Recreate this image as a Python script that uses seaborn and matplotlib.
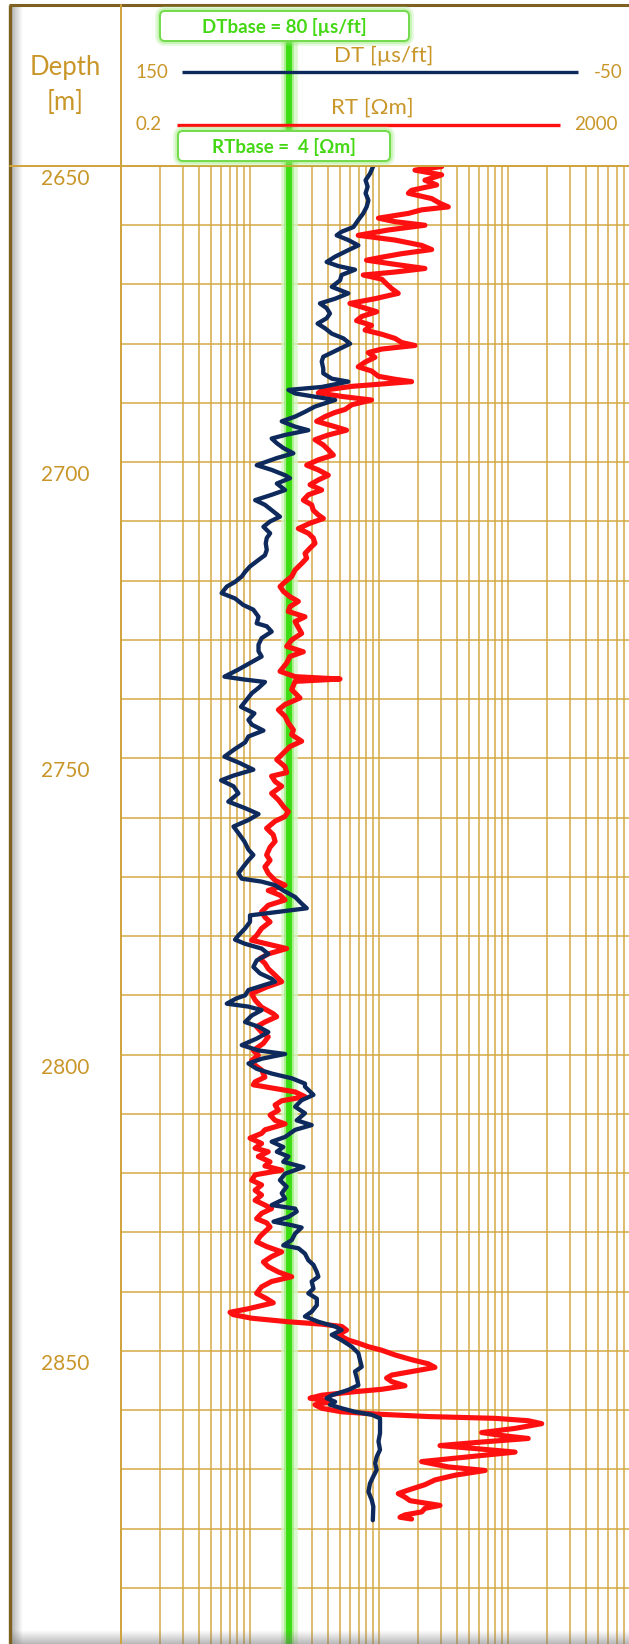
import numpy as np
import matplotlib
matplotlib.use("Agg")
import matplotlib.pyplot as plt
import matplotlib.transforms as mtransforms
from matplotlib.patches import FancyBboxPatch
import seaborn as sns

sns.set_style("white")
plt.rcParams['font.family'] = ['Lato', 'DejaVu Sans']

# ---- log readings (depth in m) ----
dt_depth = [
    2650.0, 2651.3, 2652.4, 2653.5, 2654.6, 2655.8, 2656.9, 2658.0, 2659.1, 2660.3,
    2661.1, 2661.7, 2662.5, 2663.4, 2664.2, 2665.3, 2666.2, 2666.9, 2667.5, 2668.4,
    2669.3, 2670.4, 2671.5, 2672.4, 2673.2, 2674.0, 2674.9, 2675.7, 2676.6, 2677.4,
    2678.3, 2679.1, 2680.0, 2681.1, 2682.2, 2683.0, 2684.2, 2685.0, 2685.9, 2686.4,
    2687.3, 2687.8, 2688.4, 2689.5, 2690.6, 2691.5, 2692.3, 2693.1, 2694.0, 2694.6,
    2695.4, 2696.0, 2696.8, 2697.6, 2698.5, 2699.3, 2700.5, 2701.3, 2702.2, 2702.7,
    2703.6, 2704.7, 2705.5, 2706.4, 2707.2, 2708.1, 2709.2, 2710.0, 2710.9, 2712.0,
    2712.8, 2713.7, 2714.8, 2715.7, 2716.5, 2717.6, 2718.5, 2719.3, 2720.2, 2721.0,
    2722.1, 2723.0, 2724.1, 2724.9, 2726.1, 2727.2, 2727.7, 2728.6, 2729.7, 2730.8,
    2731.9, 2732.8, 2733.9, 2735.0, 2736.2, 2736.7, 2737.1, 2738.1, 2739.0, 2740.1,
    2741.3, 2742.4, 2743.5, 2744.3, 2745.3, 2746.3, 2747.3, 2748.4, 2749.7, 2750.8,
    2751.9, 2752.9, 2753.7, 2754.7, 2755.9, 2757.3, 2758.4, 2759.4, 2760.4, 2761.5,
    2762.6, 2764.0, 2765.4, 2766.3, 2767.2, 2768.3, 2769.4, 2770.3, 2770.8, 2771.4,
    2772.3, 2773.4, 2774.5, 2775.3, 2775.9, 2776.5, 2777.6, 2778.7, 2779.9, 2780.6,
    2781.3, 2782.1, 2783.0, 2784.1, 2785.2, 2786.3, 2787.2, 2787.7, 2788.3, 2789.1,
    2790.0, 2790.5, 2791.4, 2791.9, 2792.5, 2793.4, 2794.5, 2795.3, 2796.2, 2797.3,
    2798.4, 2799.3, 2799.9, 2800.7, 2801.5, 2802.4, 2803.2, 2804.0, 2804.9, 2805.4,
    2806.8, 2807.7, 2808.8, 2809.9, 2811.1, 2811.9, 2812.7, 2813.9, 2814.7, 2815.6,
    2816.4, 2817.2, 2818.1, 2819.0, 2820.1, 2821.2, 2822.3, 2823.4, 2824.3, 2825.4,
    2826.0, 2826.5, 2827.4, 2828.2, 2828.8, 2829.2, 2830.2, 2831.3, 2832.2, 2832.7,
    2833.6, 2834.7, 2835.5, 2836.7, 2837.5, 2838.3, 2839.5, 2840.3, 2841.2, 2842.3,
    2843.4, 2844.2, 2845.1, 2845.9, 2846.5, 2847.3, 2848.2, 2849.3, 2850.4, 2851.5,
    2852.7, 2853.5, 2854.6, 2855.8, 2856.6, 2857.5, 2858.0, 2858.6, 2859.1, 2859.7,
    2860.3, 2860.8, 2861.4, 2862.5, 2863.9, 2865.3, 2866.7, 2867.9, 2869.0, 2870.1,
    2871.2, 2872.4, 2873.8, 2875.2, 2876.3, 2878.6,
]
dt_value = [
    52.2, 53.5, 55.2, 54.4, 55.2, 54.1, 54.8, 56.1, 58.0, 59.9,
    64.5, 66.4, 61.9, 58.0, 61.9, 67.0, 70.3, 65.7, 59.3, 64.5,
    65.1, 68.3, 61.9, 67.0, 72.9, 70.3, 69.0, 70.3, 73.8, 70.9,
    68.3, 63.8, 61.2, 66.4, 71.6, 72.2, 71.6, 71.6, 68.3, 61.9,
    72.2, 85.1, 82.5, 67.0, 74.8, 78.7, 82.5, 87.7, 82.5, 77.4,
    86.4, 91.6, 89.6, 87.1, 83.2, 89.6, 97.4, 91.6, 86.4, 84.5,
    89.6, 86.4, 91.6, 98.0, 94.2, 91.6, 88.4, 92.2, 94.8, 92.2,
    93.5, 93.9, 93.5, 94.2, 96.7, 100.0, 101.9, 103.2, 105.8, 109.0,
    111.0, 105.8, 102.6, 98.7, 96.7, 97.4, 93.5, 91.6, 95.5, 96.7,
    96.7, 95.5, 100.0, 104.5, 109.9, 101.9, 94.2, 96.7, 99.3, 101.3,
    103.5, 98.3, 100.6, 99.3, 94.8, 100.6, 101.9, 105.8, 109.9, 103.9,
    98.7, 106.4, 111.2, 106.4, 104.5, 108.4, 101.9, 96.7, 100.6, 106.4,
    104.5, 102.2, 100.6, 98.7, 100.6, 102.6, 104.5, 103.2, 95.5, 90.3,
    87.1, 82.5, 80.0, 78.0, 89.0, 100.0, 100.0, 101.9, 104.5, 105.8,
    101.9, 95.5, 92.9, 97.4, 98.7, 96.1, 91.6, 90.3, 94.8, 100.6,
    101.9, 105.2, 109.0, 100.6, 95.5, 99.3, 101.9, 96.7, 92.9, 97.4,
    103.2, 96.7, 86.4, 95.5, 100.6, 97.4, 91.6, 83.8, 78.7, 78.7,
    75.4, 80.0, 82.5, 78.7, 81.9, 76.1, 82.5, 86.4, 91.6, 87.1,
    89.6, 85.1, 87.1, 79.3, 86.4, 88.4, 85.8, 87.7, 86.4, 91.6,
    82.5, 81.9, 85.1, 90.9, 83.8, 80.0, 82.5, 83.8, 87.1, 81.2,
    78.7, 77.4, 75.4, 74.1, 73.5, 76.1, 75.4, 77.4, 74.1, 74.1,
    76.1, 78.7, 73.5, 67.0, 64.5, 68.3, 64.5, 60.6, 58.0, 57.4,
    56.7, 59.3, 58.6, 58.0, 61.9, 68.3, 70.3, 67.0, 69.0, 64.5,
    59.3, 52.8, 49.6, 49.6, 49.6, 50.2, 49.6, 50.9, 51.5, 50.9,
    52.2, 53.5, 54.1, 52.8, 52.2, 52.4,
]

rt_depth = [
    2650.1, 2650.7, 2651.5, 2652.4, 2653.2, 2654.1, 2654.6, 2655.5, 2656.3, 2656.9,
    2657.4, 2658.0, 2658.8, 2659.4, 2660.0, 2660.8, 2661.7, 2662.5, 2663.4, 2664.1,
    2664.8, 2665.4, 2665.9, 2666.6, 2667.3, 2667.9, 2668.4, 2669.1, 2669.9, 2670.7,
    2671.5, 2672.4, 2673.2, 2674.0, 2674.6, 2675.4, 2676.1, 2676.9, 2677.7, 2678.4,
    2679.1, 2679.8, 2680.3, 2680.9, 2681.5, 2682.3, 2683.1, 2683.9, 2684.6, 2685.5,
    2686.0, 2686.4, 2687.2, 2687.9, 2688.3, 2688.9, 2689.5, 2690.3, 2691.1, 2691.6,
    2692.3, 2693.1, 2694.0, 2694.6, 2695.4, 2696.2, 2697.1, 2697.9, 2698.8, 2699.6,
    2700.5, 2701.3, 2702.2, 2703.0, 2703.8, 2704.7, 2705.5, 2706.4, 2707.2, 2708.1,
    2708.9, 2709.5, 2710.3, 2711.2, 2712.0, 2712.8, 2713.7, 2714.5, 2715.4, 2716.2,
    2717.1, 2718.2, 2719.3, 2720.2, 2721.0, 2721.8, 2722.7, 2723.5, 2724.4, 2725.2,
    2726.1, 2726.9, 2727.4, 2728.9, 2730.0, 2731.1, 2732.0, 2732.8, 2733.9, 2735.3,
    2736.2, 2736.6, 2737.0, 2738.4, 2739.8, 2740.9, 2741.8, 2742.9, 2744.0, 2745.2,
    2746.0, 2747.1, 2748.0, 2749.1, 2750.2, 2751.4, 2752.4, 2753.0, 2753.9, 2754.7,
    2755.9, 2757.0, 2758.1, 2759.0, 2759.8, 2760.6, 2761.8, 2762.9, 2764.0, 2765.0,
    2766.3, 2767.2, 2768.3, 2769.4, 2770.6, 2771.4, 2772.3, 2773.1, 2773.9, 2774.8,
    2775.9, 2776.8, 2777.6, 2778.7, 2779.9, 2780.7, 2781.5, 2782.1, 2783.0, 2783.8,
    2784.6, 2785.5, 2786.6, 2787.7, 2788.6, 2789.7, 2790.8, 2792.0, 2793.1, 2793.6,
    2794.5, 2795.3, 2796.2, 2797.0, 2798.1, 2799.3, 2800.1, 2801.0, 2801.8, 2802.6,
    2803.8, 2804.6, 2805.1, 2806.3, 2807.1, 2807.8, 2808.5, 2809.4, 2810.2, 2811.1,
    2811.7, 2812.7, 2813.3, 2814.1, 2815.0, 2815.8, 2816.4, 2817.2, 2818.1, 2818.8,
    2819.5, 2820.3, 2821.2, 2822.0, 2822.9, 2823.7, 2824.6, 2825.4, 2826.0, 2826.8,
    2827.7, 2828.4, 2829.1, 2829.9, 2830.7, 2831.6, 2832.4, 2833.3, 2834.1, 2835.0,
    2835.8, 2836.7, 2837.5, 2838.3, 2839.2, 2840.3, 2841.2, 2841.9, 2842.9, 2843.5,
    2843.9, 2844.5, 2845.1, 2845.5, 2845.9, 2846.5, 2847.3, 2848.2, 2848.7, 2849.3,
    2849.9, 2850.7, 2851.5, 2852.2, 2852.8, 2853.5, 2854.1, 2854.6, 2855.2, 2855.9,
    2856.5, 2856.9, 2857.5, 2858.0, 2858.6, 2859.1, 2859.7, 2860.3, 2860.7, 2861.1,
    2861.4, 2861.8, 2862.3, 2863.1, 2863.8, 2864.3, 2864.8, 2865.4, 2866.0, 2866.5,
    2867.1, 2867.9, 2868.7, 2869.6, 2870.2, 2871.0, 2871.8, 2872.6, 2873.5, 2874.1,
    2874.7, 2875.3, 2875.7, 2876.1, 2876.6, 2877.2, 2877.7, 2878.1, 2878.4,
]
rt_value = [
    61.2, 38.0, 61.2, 45.4, 56.0, 35.8, 33.8, 51.2, 59.4, 68.9,
    42.8, 33.8, 19.8, 26.6, 45.4, 23.6, 13.8, 26.6, 42.8, 51.2,
    30.0, 21.0, 16.0, 26.6, 45.4, 26.6, 15.1, 21.0, 22.9, 25.1,
    28.2, 18.6, 11.9, 15.6, 19.2, 14.7, 13.4, 17.5, 15.6, 21.0,
    26.6, 30.0, 38.0, 21.0, 16.5, 18.6, 15.6, 13.8, 17.5, 19.8,
    26.6, 35.8, 12.3, 7.19, 6.77, 10.3, 17.5, 12.3, 10.9, 9.12,
    7.63, 6.57, 9.12, 11.2, 8.09, 6.38, 7.41, 8.09, 8.85, 6.77,
    5.50, 6.77, 8.09, 6.77, 5.84, 7.19, 5.67, 5.18, 6.01, 6.19,
    6.77, 7.41, 5.84, 4.74, 5.67, 6.19, 6.38, 5.84, 5.34, 5.50,
    5.03, 4.47, 4.21, 3.74, 3.42, 3.63, 4.08, 4.74, 4.08, 3.96,
    5.34, 4.47, 4.60, 5.03, 4.21, 3.85, 5.18, 4.08, 3.85, 3.42,
    4.47, 9.97, 4.47, 4.21, 4.88, 3.74, 3.32, 3.74, 3.96, 4.34,
    4.21, 5.03, 4.08, 3.63, 3.22, 3.74, 3.85, 2.94, 3.13, 3.52,
    2.94, 3.32, 3.63, 3.96, 3.74, 3.13, 2.69, 3.03, 3.13, 2.86,
    2.69, 2.86, 2.61, 2.77, 3.13, 3.74, 2.77, 3.42, 3.74, 2.77,
    2.46, 2.61, 2.86, 2.46, 2.25, 2.06, 2.94, 3.85, 2.77, 2.39,
    2.61, 2.77, 3.13, 3.52, 2.69, 2.06, 2.19, 2.46, 3.03, 3.22,
    2.61, 2.25, 2.46, 2.77, 2.54, 2.12, 2.32, 2.06, 2.19, 2.46,
    2.61, 2.19, 2.12, 4.47, 5.34, 3.52, 3.13, 3.32, 2.86, 3.13,
    3.74, 2.61, 2.46, 2.00, 2.46, 2.19, 2.77, 2.32, 2.86, 2.61,
    3.52, 2.19, 2.06, 2.46, 2.19, 2.46, 2.19, 2.61, 2.94, 2.46,
    2.25, 2.69, 2.86, 2.61, 2.39, 2.25, 2.69, 3.52, 2.94, 2.54,
    2.77, 3.32, 4.21, 2.94, 2.46, 2.25, 2.69, 3.03, 1.94, 1.40,
    1.48, 2.06, 3.96, 7.19, 10.3, 11.2, 9.68, 11.6, 13.8, 16.5,
    21.0, 26.6, 35.8, 48.3, 54.3, 35.8, 25.1, 22.9, 25.1, 31.8,
    21.0, 13.0, 7.19, 5.84, 8.59, 6.38, 7.19, 10.3, 19.8, 48.3,
    159, 287, 365, 227, 125, 179, 287, 125, 59.4, 111,
    227, 98.5, 42.8, 68.9, 133, 77.6, 54.3, 45.4, 33.8, 28.2,
    31.8, 34.8, 45.4, 59.4, 45.4, 42.8, 31.8, 29.1, 35.8,
]

depth_ticks = [2650, 2700, 2750, 2800, 2850]
depth_lim = (2650, 2900)
dt_lim = (150, -50)
rt_lim = (0.2, 2000)
dt_base = 80
rt_base = 4

GOLD = '#C9962A'
GRID = '#D3A63F'
NAVY = '#0E2A5C'
RED = '#FF1010'
GREEN = '#3CDD12'

W, H = 629, 1644
fig = plt.figure(figsize=(W / 100, H / 100), dpi=100)
fig.patch.set_facecolor('white')

# track geometry in pixels
px_per_m = 5.924
top = 166
bot = top + (depth_lim[1] - depth_lim[0]) * px_per_m
left, right = 121, 637

ax = fig.add_axes([left / W, 1 - bot / H, (right - left) / W, (bot - top) / H])
ax.set_xscale('log')
ax.set_xlim(*rt_lim)
ax.set_ylim(depth_lim[1], depth_lim[0])
ax.axis('off')

# log grid (decades start at the left edge) and 10 m depth grid
for d in range(4):
    for m in range(1, 10):
        v = rt_lim[0] * m * 10 ** d
        if v > rt_lim[0]:
            ax.axvline(v, color=GRID, lw=1.25, alpha=0.85, zorder=1)
for dep in range(depth_lim[0] + 10, depth_lim[1], 10):
    ax.axhline(dep, color=GRID, lw=1.25, alpha=0.85, zorder=1)

# base line (green with glow), runs up into the header
ext = 1 + (top - 25) / (bot - top)
ax.axvline(rt_base, ymin=0, ymax=ext, color='#D5F6C6', lw=12, alpha=0.8, clip_on=False, zorder=2)
ax.axvline(rt_base, ymin=0, ymax=ext, color='#9BEC78', lw=7, alpha=0.8, clip_on=False, zorder=2)
ax.axvline(rt_base, ymin=0, ymax=ext, color=GREEN, lw=4.2, clip_on=False, zorder=2)

sns.lineplot(x=rt_value, y=rt_depth, orient='y', estimator=None, sort=False,
             color=RED, lw=3.7, ax=ax, zorder=3,
             solid_joinstyle='round', solid_capstyle='round')

ax2 = ax.twiny()
ax2.set_xlim(*dt_lim)
ax2.axis('off')
sns.lineplot(x=dt_value, y=dt_depth, orient='y', estimator=None, sort=False,
             color=NAVY, lw=3.1, ax=ax2, zorder=4,
             solid_joinstyle='round', solid_capstyle='round')
ax.set_ylim(depth_lim[1], depth_lim[0])
ax2.set_xlim(*dt_lim)

# depth labels
trans = mtransforms.blended_transform_factory(fig.transFigure, ax.transData)
for d in depth_ticks:
    ax.text(65 / W, d + 2.2, str(d), transform=trans, ha='center', va='center',
            color=GOLD, fontsize=15, clip_on=False)

# ---- header / frame overlay in pixel coordinates ----
ov = fig.add_axes([0, 0, 1, 1], zorder=5)
ov.set_xlim(0, W)
ov.set_ylim(H, 0)
ov.axis('off')
ov.patch.set_visible(False)

# frame shadows
n = 24
sh = np.zeros((1, n, 4))
sh[..., :3] = 0.45
sh[0, :, 3] = np.linspace(0.55, 0, n)
ov.imshow(sh, extent=(11, 23, H, 5), aspect='auto', interpolation='bilinear', zorder=1)
shb = np.zeros((n, 1, 4))
shb[..., :3] = 0.45
shb[:, 0, 3] = np.linspace(0, 0.5, n)
ov.imshow(shb, extent=(11, W, H, H - 14), aspect='auto', interpolation='bilinear', zorder=1)
ov.set_xlim(0, W)
ov.set_ylim(H, 0)

ov.plot([9, W], [5, 5], color='#7E6020', lw=2.2, solid_capstyle='butt')
ov.plot([9.5, 9.5], [5, H], color='#7E6020', lw=2.4, solid_capstyle='butt')
ov.plot([10, W], [top, top], color='#CFA33A', lw=1.4)
ov.plot([left, left], [5, H], color='#CFA33A', lw=1.4)

# depth header
ov.text(65, 68, 'Depth', color=GOLD, fontsize=18.5, ha='center', va='center')
ov.text(65, 103, '[m]', color=GOLD, fontsize=18.5, ha='center', va='center')

# curve scale header
ov.plot([182, 578], [72, 72], color=NAVY, lw=2.4, solid_capstyle='butt')
ov.text(152, 72, str(dt_lim[0]), color=GOLD, fontsize=13.5, ha='center', va='center')
ov.text(608, 72, str(dt_lim[1]), color=GOLD, fontsize=13.5, ha='center', va='center')
ov.text(384, 56, 'DT [µs/ft]', color=GOLD, fontsize=16, ha='center', va='center')

ov.plot([177, 560], [125, 125], color=RED, lw=2.4, solid_capstyle='butt')
ov.text(149, 125, str(rt_lim[0]), color=GOLD, fontsize=13.5, ha='center', va='center')
ov.text(596, 125, str(rt_lim[1]), color=GOLD, fontsize=13.5, ha='center', va='center')
ov.text(372, 108, 'RT [Ωm]', color=GOLD, fontsize=16, ha='center', va='center')


def base_box(x0, y0, w, h, label):
    for lw, a in [(7, 0.25), (4, 0.4)]:
        ov.add_patch(FancyBboxPatch((x0, y0), w, h, boxstyle='round,pad=0,rounding_size=5',
                                    fc='none', ec='#9BEA7A', lw=lw, alpha=a, zorder=6))
    ov.add_patch(FancyBboxPatch((x0, y0), w, h, boxstyle='round,pad=0,rounding_size=5',
                                fc='white', ec='#72DB4C', lw=1.4, zorder=7))
    ov.text(x0 + w / 2, y0 + h / 2 + 0.5, label, color='#44D814', fontsize=13.5,
            fontweight='bold', ha='center', va='center', zorder=8)


base_box(160, 11, 249, 30, f'DTbase = {dt_base} [µs/ft]')
base_box(178, 131, 212, 30, f'RTbase =  {rt_base} [Ωm]')

fig.savefig('out.png', dpi=100)
